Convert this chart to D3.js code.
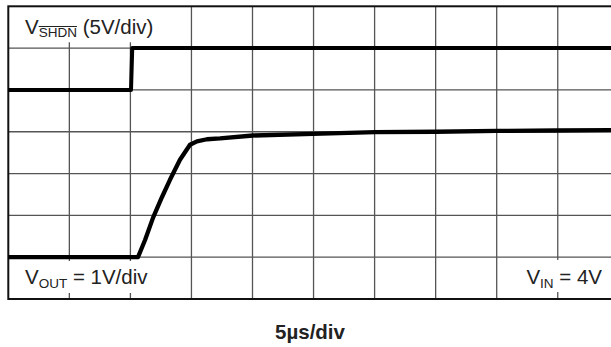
<!DOCTYPE html>
<html>
<head>
<meta charset="utf-8">
<script src="https://cdn.jsdelivr.net/npm/d3@7"></script>
<style>
  body { margin: 0; background: #fff; }
  svg { display: block; font-family: "Liberation Sans", Arial, sans-serif; }
</style>
</head>
<body>
<svg class="scope"></svg>
<script>
const size = {w: 611, h: 347};
// plot frame (right edge is cut off by the picture)
const plot = {left: 8.3, right: 618.8, top: 6.3, bottom: 299};

// grid divisions: time in µs (5µs/div), vertical in divisions
const timeDivs = [0, 5, 10, 15, 20, 25, 30, 35, 40, 45, 50];
const voltDivs = [0, 1, 2, 3, 4, 5, 6, 7];

// trace offsets (division where 0V sits) and scale (V per div)
const shdnOffset = 5, shdnPerDiv = 5;
const voutOffset = 1, voutPerDiv = 1;

// V_SHDN trace [time µs, volts]
const shdnData = [[0, 0], [10.05, 0], [10.15, 5], [50, 5]];

// V_OUT trace [time µs, volts]
const voutData = [
    [0, 0], [10.62, 0], [11.20, 0.41], [11.85, 0.94], [12.59, 1.44],
    [13.24, 1.85], [14.06, 2.33], [14.88, 2.69], [15.45, 2.77],
    [16.27, 2.82], [17.34, 2.84], [20.04, 2.91], [24.95, 2.95],
    [30.03, 2.99], [35.03, 3.00], [40.02, 3.02], [44.94, 3.03],
    [49.36, 3.04], [50, 3.04]
];

const svg = d3.select('svg.scope')
    .attr('width', size.w)
    .attr('height', size.h);

const x = d3.scaleLinear()
    .domain([0, 50])
    .range([plot.left, plot.right]);
const y = d3.scaleLinear()
    .domain([0, 7])
    .range([plot.bottom, plot.top]);

// grid
const grid = svg.append('g').classed('grid', true);
grid.selectAll('line.v')
    .data(timeDivs.slice(1, -1))
    .join('line')
    .classed('v', true)
    .attr('x1', d => x(d)).attr('x2', d => x(d))
    .attr('y1', plot.top).attr('y2', plot.bottom)
    .attr('stroke', '#555')
    .attr('stroke-width', 1.3);
grid.selectAll('line.h')
    .data(voltDivs.slice(1, -1))
    .join('line')
    .classed('h', true)
    .attr('x1', plot.left).attr('x2', plot.right)
    .attr('y1', d => y(d)).attr('y2', d => y(d))
    .attr('stroke', '#555')
    .attr('stroke-width', 1.3);

// label boxes cover the grid
const boxes = [
    {x: plot.left, y: plot.top, w: 152, h: 36},
    {x: plot.left, y: 261, w: 148, h: 32},
    {x: 515, y: 260, w: 100, h: 32}
];
svg.append('g').selectAll('rect')
    .data(boxes)
    .join('rect')
    .attr('x', d => d.x).attr('y', d => d.y)
    .attr('width', d => d.w).attr('height', d => d.h)
    .attr('fill', '#fff');

// frame
svg.append('rect')
    .attr('x', plot.left).attr('y', plot.top)
    .attr('width', plot.right - plot.left)
    .attr('height', plot.bottom - plot.top)
    .attr('fill', 'none')
    .attr('stroke', '#111')
    .attr('stroke-width', 2);

// traces
const line = (offset, perDiv) => d3.line()
    .x(d => x(d[0]))
    .y(d => y(offset + d[1] / perDiv));

svg.append('path')
    .datum(shdnData)
    .attr('d', line(shdnOffset, shdnPerDiv))
    .attr('fill', 'none')
    .attr('stroke', '#000')
    .attr('stroke-width', 4)
    .attr('stroke-linejoin', 'round');

svg.append('path')
    .datum(voutData)
    .attr('d', line(voutOffset, voutPerDiv))
    .attr('fill', 'none')
    .attr('stroke', '#000')
    .attr('stroke-width', 4.3)
    .attr('stroke-linejoin', 'round');

// labels
const txtColor = '#222';

const shdnLabel = svg.append('text')
    .attr('x', 25).attr('y', 34)
    .attr('font-size', 20.5)
    .attr('fill', txtColor);
shdnLabel.append('tspan').text('V');
const shdnSub = shdnLabel.append('tspan')
    .attr('font-size', 13.5)
    .attr('dy', 3)
    .text('SHDN');
shdnLabel.append('tspan')
    .attr('dy', -3)
    .text(' (5V/div)');
// overline on SHDN
const start = shdnSub.node().getStartPositionOfChar(0);
const len = shdnSub.node().getComputedTextLength();
svg.append('line')
    .attr('x1', start.x).attr('x2', start.x + len)
    .attr('y1', 26.5).attr('y2', 26.5)
    .attr('stroke', txtColor)
    .attr('stroke-width', 1);

const voutLabel = svg.append('text')
    .attr('x', 25).attr('y', 284)
    .attr('font-size', 20.5)
    .attr('fill', txtColor);
voutLabel.append('tspan').text('V');
voutLabel.append('tspan').attr('font-size', 13.5).attr('dy', 3.5).text('OUT');
voutLabel.append('tspan').attr('dy', -3.5).text(' = 1V/div');

const vinLabel = svg.append('text')
    .attr('x', 602).attr('y', 284)
    .attr('font-size', 20.5)
    .attr('text-anchor', 'end')
    .attr('fill', txtColor);
vinLabel.append('tspan').text('V');
vinLabel.append('tspan').attr('font-size', 13.5).attr('dy', 3.5).text('IN');
vinLabel.append('tspan').attr('dy', -3.5).text(' = 4V');

svg.append('text')
    .attr('x', 310).attr('y', 339)
    .attr('font-size', 20.5)
    .attr('font-weight', 'bold')
    .attr('text-anchor', 'middle')
    .attr('fill', txtColor)
    .text('5µs/div');
</script>
</body>
</html>
